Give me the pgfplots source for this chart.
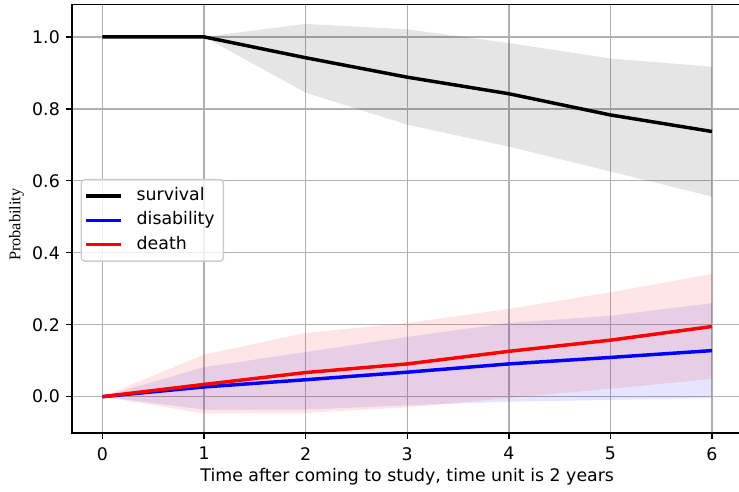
\documentclass[border=0pt]{standalone}
\usepackage{pgfplots}
\pgfplotsset{compat=1.18}
\usepackage{fontspec}
\setmainfont{DejaVu Sans}
\newfontfamily\serifl{Liberation Serif}
\begin{document}
\begin{tikzpicture}
\begin{axis}[
  scale only axis,
  width=386.5pt, height=247pt,
  xmin=-0.3, xmax=6.3, ymin=-0.101, ymax=1.090,
  xtick={0,1,2,3,4,5,6},
  ytick={0,0.2,0.4,0.6,0.8,1.0},
  yticklabel style={/pgf/number format/.cd,fixed,fixed zerofill,precision=1},
  /pgf/number format/assume math mode=true,
  tick label style={font=\fontsize{10}{12}\selectfont},
  xticklabel style={yshift=-1.2pt},
  tick align=outside, tick pos=left,
  major tick length=3.5pt,
  every tick/.style={black, line width=0.8pt},
  axis line style={line width=0.8pt},
  grid=major,
  major grid style={color=black!31, line width=0.8pt},
  xlabel={Time after coming to study, time unit is 2 years},
  ylabel={\serifl Probability},
  every axis x label/.style={at={(axis description cs:0.5,0)}, anchor=base, yshift=-28pt,
     font=\fontsize{10}{12}\selectfont},
  every axis y label/.style={at={(axis description cs:-0.0828,0.486)}, anchor=center, rotate=90,
     font=\fontsize{9.4}{11}\selectfont},
  legend style={at={(axis description cs:0.0127,0.593)}, anchor=north west,
    draw=black!20, line width=0.8pt, rounded corners=2pt, fill=white, fill opacity=0.8, text opacity=1, draw opacity=1,
    font=\fontsize{10}{12}\selectfont, row sep=0pt, inner xsep=2pt, inner ysep=2.5pt,
    nodes={inner xsep=3pt, inner ysep=2pt, text height=7.6pt, text depth=2.4pt}},
  legend cell align=left,
  legend image code/.code={\draw[#1, line width=2pt, draw opacity=1] (0pt,0pt) -- (20pt,0pt);
     \path (25pt,0pt);},
]
% bands
\addplot[forget plot, draw=none, fill=black, fill opacity=0.1] coordinates {
 (0,1) (1,1) (2,1.036) (3,1.021) (4,0.983) (5,0.940) (6,0.917)
 (6,0.556) (5,0.626) (4,0.695) (3,0.756) (2,0.845) (1,1) (0,1)} -- cycle;
\addplot[forget plot, draw=none, fill=blue, fill opacity=0.1] coordinates {
 (0,0) (1,0.082) (2,0.124) (3,0.166) (4,0.205) (5,0.225) (6,0.260)
 (6,-0.004) (5,-0.009) (4,-0.014) (3,-0.024) (2,-0.036) (1,-0.036) (0,0)} -- cycle;
\addplot[forget plot, draw=none, fill=red, fill opacity=0.1] coordinates {
 (0,0) (1,0.117) (2,0.177) (3,0.205) (4,0.244) (5,0.290) (6,0.341)
 (6,0.049) (5,0.022) (4,-0.004) (3,-0.030) (2,-0.045) (1,-0.047) (0,0)} -- cycle;
% lines
\addplot[black, line width=2pt] coordinates {
 (0,1) (1,1) (2,0.942) (3,0.888) (4,0.842) (5,0.783) (6,0.737)};
\addlegendentry{survival}
\addplot[blue, line width=2pt] coordinates {
 (0,0) (1,0.027) (2,0.047) (3,0.068) (4,0.091) (5,0.109) (6,0.128)};
\addlegendentry{disability}
\addplot[red, line width=2pt] coordinates {
 (0,0) (1,0.034) (2,0.067) (3,0.091) (4,0.126) (5,0.157) (6,0.195)};
\addlegendentry{death}
\end{axis}
\pgfresetboundingbox
\path[use as bounding box] (current axis.south west) ++(-41.5pt,-34pt) rectangle ++(426pt,283.6pt);
\end{tikzpicture}
\end{document}
